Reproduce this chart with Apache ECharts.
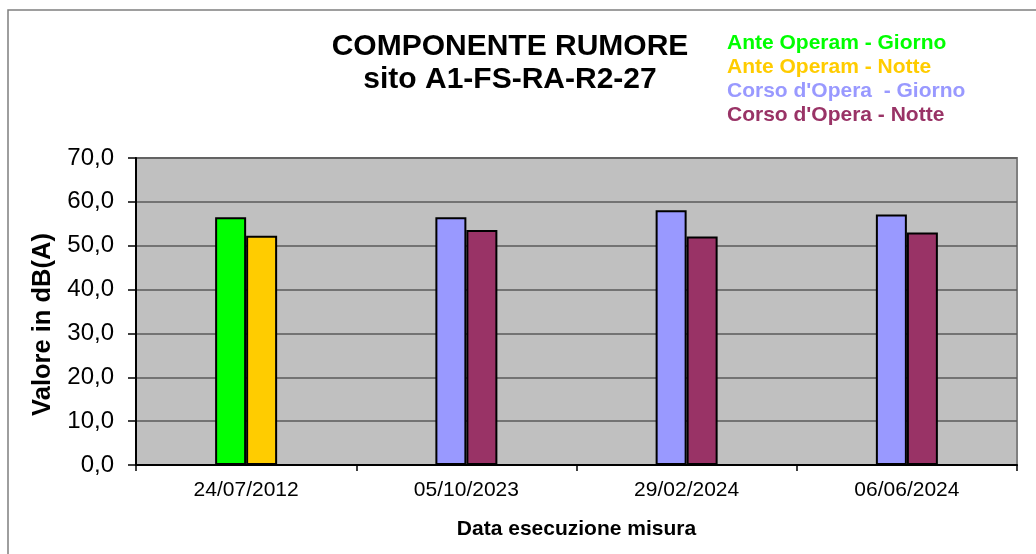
<!DOCTYPE html>
<html>
<head>
<meta charset="utf-8">
<script src="https://cdn.jsdelivr.net/npm/echarts@6/dist/echarts.min.js"></script>
<style>
  html, body { margin: 0; padding: 0; background: #fff; }
  #chart { width: 1036px; height: 554px; }
</style>
</head>
<body>
<div id="chart"></div>
<script>
// data
const dates = ['24/07/2012', '05/10/2023', '29/02/2024', '06/06/2024']
const anteGiorno = [56.5, null, null, null]
const anteNotte = [52.3, null, null, null]
const corsoGiorno = [null, 56.5, 58.1, 57.1]
const corsoNotte = [null, 53.6, 52.1, 53.0]
const yTicks = [0, 10, 20, 30, 40, 50, 60, 70]

const font = "'Liberation Sans', Arial, sans-serif"
const colors = { ag: '#00FF00', an: '#FFCC00', cg: '#9999FF', cn: '#993366' }

const chart = echarts.init(document.getElementById('chart'), null, { renderer: 'canvas' })

const bar = (name, data, stack, color) => ({
  name,
  type: 'bar',
  stack, // giorno/notte share a slot so only two bars per date
  data,
  barWidth: 31,
  barGap: '0%',
  itemStyle: { color, borderColor: '#000', borderWidth: 2 }
})

const option = {
  animation: false,
  textStyle: { fontFamily: font },
  graphic: [
    {
      type: 'rect',
      shape: { x: 8, y: 10, width: 1100, height: 600 },
      style: { fill: null, stroke: '#7f7f7f', lineWidth: 1.5 },
      z: -10
    }
  ],
  title: {
    text: 'COMPONENTE RUMORE\nsito A1-FS-RA-R2-27',
    left: 505,
    top: 25,
    textAlign: 'center',
    textStyle: { fontFamily: font, fontSize: 30, fontWeight: 'bold', color: '#000', lineHeight: 33 }
  },
  legend: {
    orient: 'vertical',
    left: 716,
    top: 28,
    itemWidth: 0,
    itemHeight: 0,
    itemGap: 3,
    selectedMode: false,
    textStyle: { fontFamily: font, fontSize: 21, fontWeight: 'bold' },
    data: [
      { name: 'Ante Operam - Giorno', textStyle: { color: colors.ag } },
      { name: 'Ante Operam - Notte', textStyle: { color: colors.an } },
      { name: "Corso d'Opera  - Giorno", textStyle: { color: colors.cg } },
      { name: "Corso d'Opera - Notte", textStyle: { color: colors.cn } }
    ]
  },
  grid: {
    left: 136, right: 19, top: 158, bottom: 89,
    show: true,
    backgroundColor: '#C0C0C0',
    borderColor: '#808080',
    borderWidth: 2
  },
  xAxis: {
    type: 'category',
    data: dates,
    name: 'Data esecuzione misura',
    nameLocation: 'middle',
    nameGap: 54,
    nameTextStyle: { fontFamily: font, fontSize: 21, fontWeight: 'bold', color: '#000' },
    axisLine: { lineStyle: { color: '#000', width: 2 } },
    axisTick: { show: true, length: 6, lineStyle: { color: '#000', width: 1.5 } },
    axisLabel: { fontFamily: font, fontSize: 21, color: '#000', margin: 15 }
  },
  yAxis: {
    type: 'value',
    min: yTicks[0],
    max: yTicks[yTicks.length - 1],
    interval: 10,
    name: 'Valore in dB(A)',
    nameLocation: 'middle',
    nameRotate: 90,
    nameGap: 74,
    nameTextStyle: { fontFamily: font, fontSize: 25.5, fontWeight: 'bold', color: '#000', padding: [0, 26, 0, 0] },
    axisLine: { show: true, lineStyle: { color: '#000', width: 2 } },
    axisTick: { show: true, length: 8, lineStyle: { color: '#000', width: 1.5 } },
    axisLabel: {
      fontFamily: font, fontSize: 24, color: '#000', margin: 22,
      formatter: v => v.toFixed(1).replace('.', ',')
    },
    splitLine: { lineStyle: { color: '#5a5a5a', width: 1.5 } }
  },
  series: [
    bar('Ante Operam - Giorno', anteGiorno, 'g', colors.ag),
    bar('Ante Operam - Notte', anteNotte, 'n', colors.an),
    bar("Corso d'Opera  - Giorno", corsoGiorno, 'g', colors.cg),
    bar("Corso d'Opera - Notte", corsoNotte, 'n', colors.cn)
  ]
}

chart.setOption(option)
</script>
</body>
</html>
